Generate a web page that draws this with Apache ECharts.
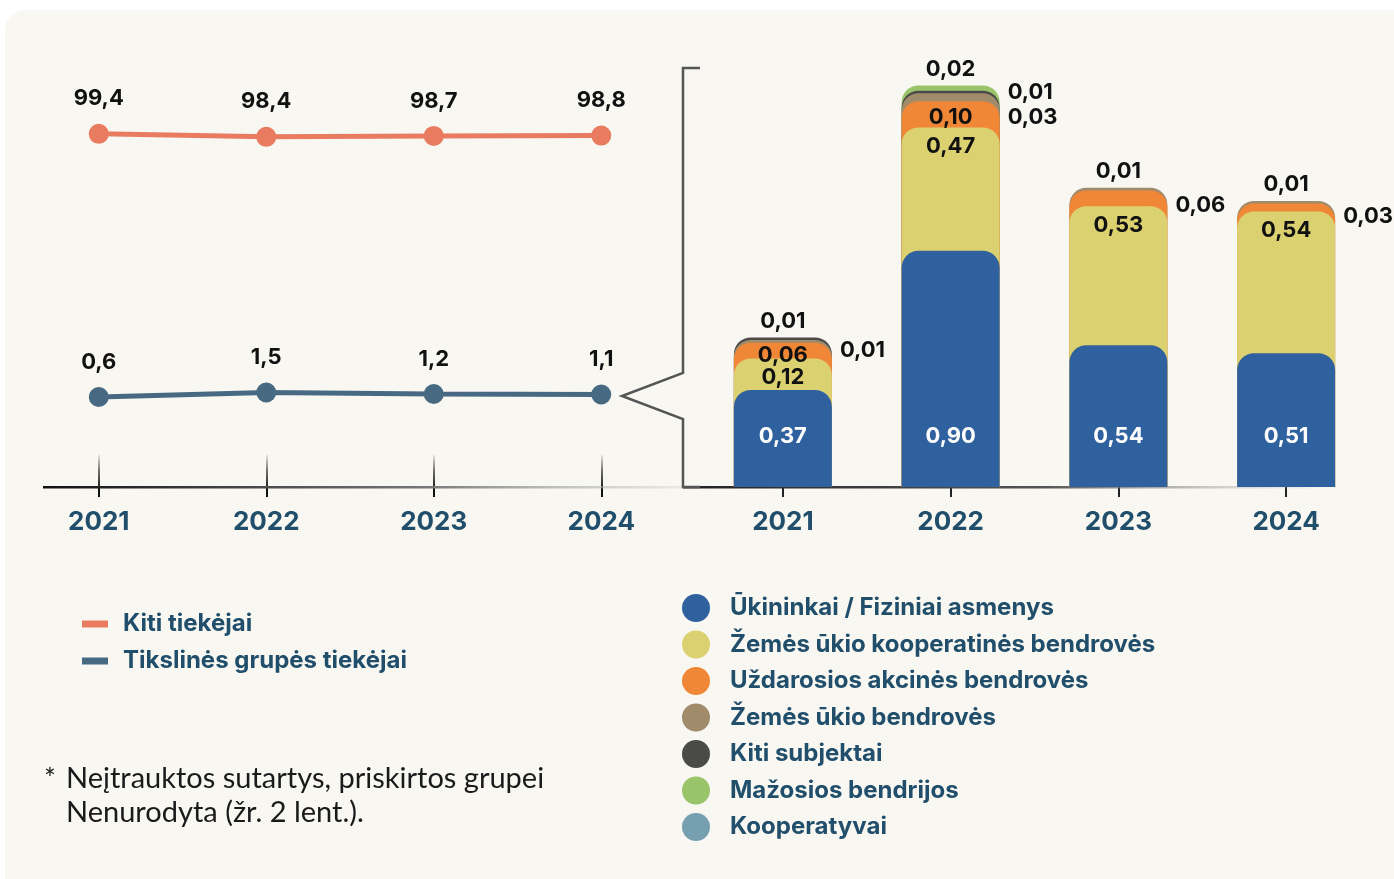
<!DOCTYPE html>
<html><head><meta charset="utf-8">
<script src="https://cdn.jsdelivr.net/npm/echarts@6/dist/echarts.min.js"></script>
<style>html,body{margin:0;padding:0;background:#ffffff;}#c{width:1394px;height:879px;}</style>
</head><body><div id="c"></div>
<script>
// ---- data ----
const years = ['2021', '2022', '2023', '2024'];
const lineNames = ['Kiti tiekėjai', 'Tikslinės grupės tiekėjai'];
const kitiTiekejai = [99.4, 98.4, 98.7, 98.8];
const tikslinesGrupes = [0.6, 1.5, 1.2, 1.1];

const barNames = ['Ūkininkai / Fiziniai asmenys', 'Žemės ūkio kooperatinės bendrovės', 'Uždarosios akcinės bendrovės', 'Žemės ūkio bendrovės', 'Kiti subjektai', 'Mažosios bendrijos', 'Kooperatyvai'];
const ukininkai = [0.37, 0.90, 0.54, 0.51];
const zemesUkioKoop = [0.12, 0.47, 0.53, 0.54];
const uzdarosios = [0.06, 0.10, 0.06, 0.03];
const zemesUkioBendroves = [0.01, 0.03, 0.01, 0.01];
const kitiSubjektai = [0.01, 0.01, 0, 0];
const mazosios = [0, 0.02, 0, 0];
const kooperatyvai = [0, 0, 0, 0];

// ---- styles ----
const segs = [ukininkai, zemesUkioKoop, uzdarosios, zemesUkioBendroves, kitiSubjektai, mazosios, kooperatyvai];
const barColors = ['#30619f', '#dcd171', '#f08736', '#a08b6b', '#4a4a48', '#9ac46a', '#76a0b0'];
const lineColors = ['#e97b60', '#476a82'];
const textBlue = '#214f6b';
const FONT = 'Inter, "Noto Sans", sans-serif';
const BAR_W = 98;
// label placement per segment/year (style only)
const labelPlan = [
  ['bottom', 'bottom', 'bottom', 'bottom'],
  [['inTop', 8], ['inTop', 8], ['inTop', 8], ['inTop', 8]],
  [['inTop', 2], ['inTop', 5], ['right', 15], ['right', 13]],
  [['right', 10], ['right', 24], 'top', 'top'],
  ['top', ['right', 2], null, null],
  [null, 'top', null, null],
  [null, null, null, null]
];

function fmt2(v) { return v.toFixed(2).replace('.', ','); }
function fmt1(v) { return v.toFixed(1).replace('.', ','); }

function labelFor(i, j) {
  const p = labelPlan[i][j];
  const base = { show: true, fontFamily: FONT, fontWeight: 'bold', fontSize: 22, color: '#111',
    formatter: fmt2(segs[i][j]) };
  if (!p) return { show: false };
  if (p === 'bottom') return Object.assign(base, { position: 'insideBottom', distance: 40, color: '#ffffff' });
  if (p === 'top') return Object.assign(base, { position: 'top', distance: 5 });
  if (p[0] === 'inTop') return Object.assign(base, { position: 'insideTop', distance: p[1] });
  if (p[0] === 'right') return Object.assign(base, { position: [BAR_W + 8, p[1]], align: 'left', verticalAlign: 'middle' });
  return base;
}

const barSeries = [];
for (let i = segs.length - 1; i >= 0; i--) {
  const data = years.map((y, j) => {
    if (!(segs[i][j] > 0)) return '-';
    let cum = 0;
    for (let k = 0; k <= i; k++) cum += segs[k][j];
    return { value: Math.round(cum * 1000) / 1000, label: labelFor(i, j) };
  });
  barSeries.push({
    type: 'bar', name: barNames[i], xAxisIndex: 1, yAxisIndex: 2,
    barWidth: BAR_W, barGap: '-100%',
    itemStyle: { color: barColors[i], borderRadius: [17, 17, 0, 0] },
    emphasis: { disabled: true },
    data: data
  });
}

const lineLabel = { show: true, position: 'top', distance: 14, fontFamily: FONT, fontWeight: 'bold', fontSize: 22, color: '#111', formatter: p => fmt1(p.value) };

const yearLabel = { fontFamily: FONT, fontWeight: 'bold', fontSize: 26, color: textBlue, margin: 22 };

const chart = echarts.init(document.getElementById('c'), null, { renderer: 'canvas' });
chart.setOption({
  animation: false,
  backgroundColor: '#ffffff',
  grid: [
    { left: 15, width: 670, top: 87, height: 400 },
    { left: 699, width: 671, top: 67, height: 420 }
  ],
  xAxis: [
    { type: 'category', gridIndex: 0, position: 'bottom', data: years, axisLine: { show: false, onZero: false },
      axisTick: { show: true, alignWithLabel: true, length: 10, lineStyle: { color: '#111', width: 2 } }, axisLabel: yearLabel },
    { type: 'category', gridIndex: 1, position: 'bottom', data: years, axisLine: { show: false, onZero: false },
      axisTick: { show: true, alignWithLabel: true, length: 10, lineStyle: { color: '#222', width: 2 } }, axisLabel: yearLabel },
    { type: 'category', gridIndex: 0, position: 'bottom', data: years, axisLine: { show: false, onZero: false }, axisLabel: { show: false },
      axisTick: { show: true, inside: true, alignWithLabel: true, length: 32,
        lineStyle: { width: 2, color: new echarts.graphic.LinearGradient(0, 0, 0, 1, [
          { offset: 0, color: 'rgba(20,20,20,0)' }, { offset: 0.5, color: 'rgba(20,20,20,0.6)' }, { offset: 1, color: 'rgba(20,20,20,1)' }]) } } }
  ],
  yAxis: [
    { type: 'value', gridIndex: 0, min: -18.3, max: 115, show: false },
    { type: 'value', gridIndex: 0, min: -17.4, max: 62.6, show: false },
    { type: 'value', gridIndex: 1, min: 0, max: 1.6, show: false }
  ],
  legend: [
    { data: lineNames, orient: 'vertical', left: 77, top: 606, icon: 'rect', itemWidth: 26, itemHeight: 7, itemGap: 11,
      selectedMode: false,
      textStyle: { fontFamily: FONT, fontWeight: 'bold', fontSize: 24, color: textBlue, lineHeight: 26, padding: [0, 0, 0, 10] } },
    { data: barNames, orient: 'vertical', left: 677, top: 589, icon: 'circle', itemWidth: 28, itemHeight: 28, itemGap: 8.5,
      selectedMode: false,
      textStyle: { fontFamily: FONT, fontWeight: 'bold', fontSize: 24, color: textBlue, padding: [0, 0, 0, 15] } }
  ],
  graphic: [
    { type: 'rect', z: -100, silent: true, shape: { x: 5, y: 10, width: 1420, height: 900, r: 20 }, style: { fill: '#f8f7f2' } },
    { type: 'rect', z: 1, silent: true, shape: { x: 43, y: 486, width: 642, height: 2.5 },
      style: { fill: new echarts.graphic.LinearGradient(0, 0, 1, 0, [
        { offset: 0, color: '#111' }, { offset: 0.6, color: '#777' }, { offset: 1, color: 'rgba(200,200,195,0.3)' }]) } },
    { type: 'rect', z: 1, silent: true, shape: { x: 683, y: 486, width: 665, height: 2.5 },
      style: { fill: new echarts.graphic.LinearGradient(0, 0, 1, 0, [
        { offset: 0, color: '#222' }, { offset: 0.55, color: '#555' }, { offset: 1, color: 'rgba(200,200,195,0)' }]) } },
    { type: 'polyline', z: 5, silent: true,
      shape: { points: [[700, 68], [683, 68], [683, 373], [622, 396], [683, 419], [683, 487], [700, 487]] },
      style: { stroke: '#555', lineWidth: 2.5, fill: null } },
    { type: 'text', z: 5, silent: true, left: 44, top: 766,
      style: { text: '*', fontFamily: 'Lato, sans-serif', fontSize: 28, fill: '#1a1a1a' } },
    { type: 'text', z: 5, silent: true, left: 66, top: 762,
      style: { text: 'Neįtrauktos sutartys, priskirtos grupei\nNenurodyta (žr. 2 lent.).', fontFamily: 'Lato, sans-serif', fontSize: 29, lineHeight: 34, fill: '#1a1a1a' } }
  ],
  series: [
    { type: 'line', name: lineNames[0], xAxisIndex: 0, yAxisIndex: 0, data: kitiTiekejai,
      symbol: 'circle', symbolSize: 20, lineStyle: { width: 5, color: lineColors[0] }, itemStyle: { color: lineColors[0] },
      label: lineLabel, emphasis: { disabled: true } },
    { type: 'line', name: lineNames[1], xAxisIndex: 0, yAxisIndex: 1, data: tikslinesGrupes,
      symbol: 'circle', symbolSize: 20, lineStyle: { width: 5, color: lineColors[1] }, itemStyle: { color: lineColors[1] },
      label: lineLabel, emphasis: { disabled: true } }
  ].concat(barSeries)
});
</script>
</body></html>
